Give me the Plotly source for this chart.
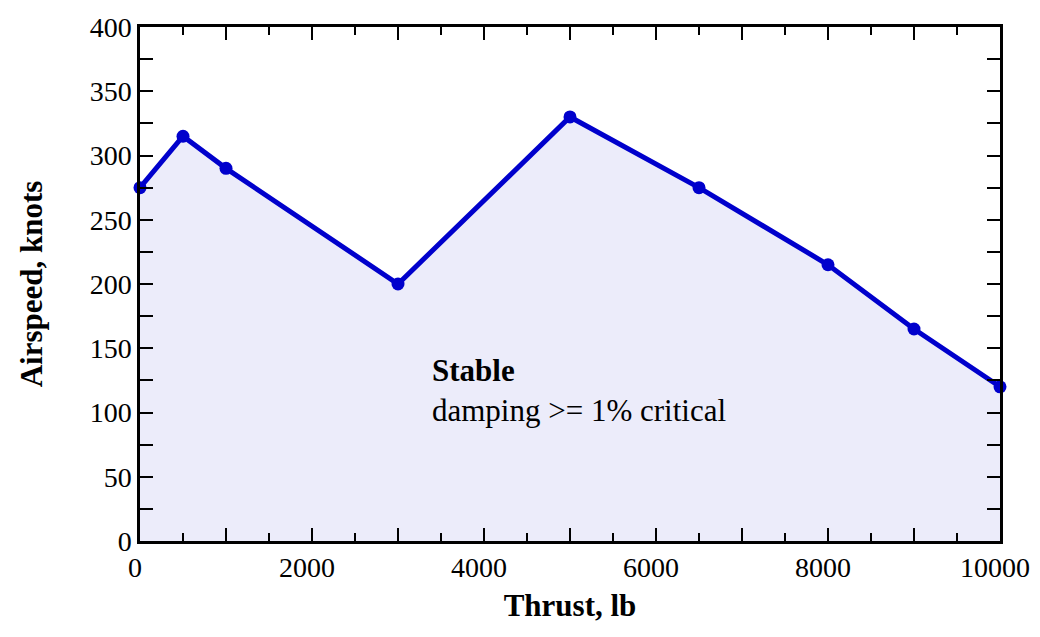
import plotly.graph_objects as go

thrust = [0, 500, 1000, 3000, 5000, 6500, 8000, 9000, 10000]
airspeed = [275, 315, 290, 200, 330, 275, 215, 165, 120]

x_tickvals = list(range(0, 10001, 1000))
x_ticktext = [str(v) if v % 2000 == 0 else "" for v in x_tickvals]
y_tickvals = list(range(0, 401, 25))
y_ticktext = [str(v) if v % 50 == 0 else "" for v in y_tickvals]

font_family = "Liberation Serif"

fig = go.Figure()
fig.add_trace(go.Scatter(
    x=thrust, y=airspeed, mode="lines+markers",
    line=dict(color="#0000cc", width=5),
    marker=dict(color="#0000cc", size=13),
    fill="tozeroy", fillcolor="#ececfa",
    showlegend=False, cliponaxis=False,
))

fig.add_annotation(
    x=3370, y=117, xref="x", yref="y",
    text="<b>Stable</b><br>damping >= 1% critical",
    showarrow=False, xanchor="left", yanchor="middle", align="left",
    font=dict(family=font_family, size=31, color="black"),
)

axis_common = dict(
    showline=True, linecolor="black", linewidth=2.5, mirror="allticks",
    ticks="inside", tickcolor="black", tickwidth=2, showgrid=False, zeroline=False,
    tickfont=dict(family=font_family, size=28, color="black"),
    automargin=False, ticklabeloverflow="allow",
)

fig.update_xaxes(
    range=[0, 10000], tickmode="array", tickvals=x_tickvals, ticktext=x_ticktext,
    ticklen=13, ticklabelshift=-5,
    minor=dict(ticks="inside", dtick=500, ticklen=8, tickcolor="black", tickwidth=2, showgrid=False),
    title=dict(text="<b>Thrust, lb</b>", font=dict(family=font_family, size=31, color="black"), standoff=34),
    **axis_common,
)
fig.update_yaxes(
    range=[0, 400], tickmode="array", tickvals=y_tickvals, ticktext=y_ticktext,
    ticklen=13,
    title=dict(text="<b>Airspeed, knots</b>", font=dict(family=font_family, size=31, color="black"), standoff=38),
    **axis_common,
)

fig.update_layout(
    width=1032, height=615,
    margin=dict(l=132, r=40, t=19, b=82),
    paper_bgcolor="white", plot_bgcolor="white",
)

fig.write_html("out.html")
